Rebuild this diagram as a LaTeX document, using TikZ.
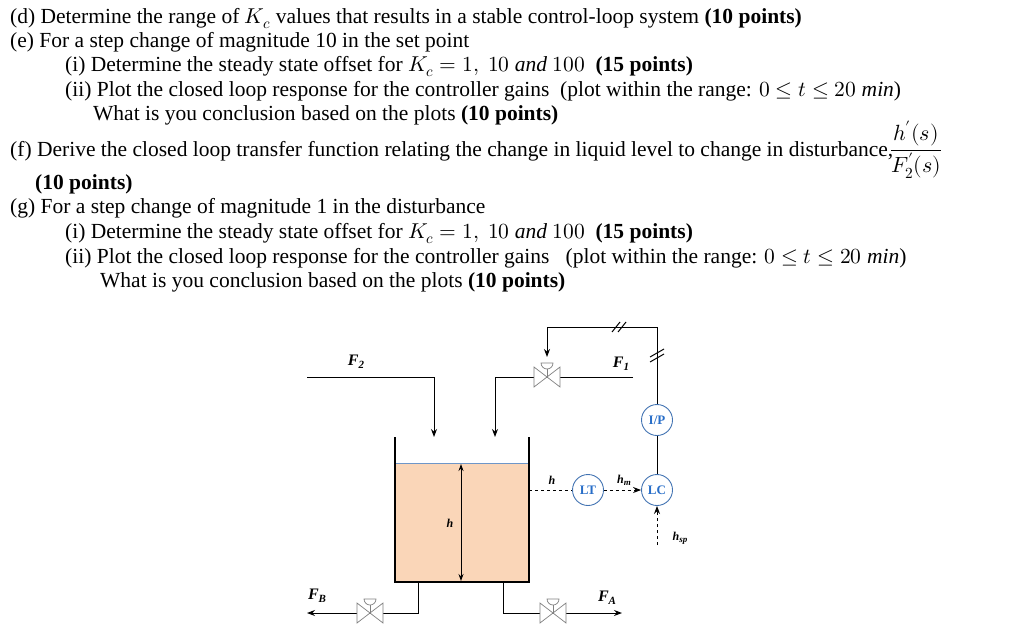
\documentclass[tikz,border=0pt]{standalone}
\usepackage{fontspec}
\setmainfont{Liberation Serif}
\usepackage{amsmath}
\usepackage{unicode-math}
\setmathfont{Latin Modern Math}
\usetikzlibrary{arrows.meta,calc}
\definecolor{liq}{RGB}{250,214,184}
\definecolor{surf}{RGB}{110,150,200}
\definecolor{inst}{RGB}{40,110,200}
\tikzset{
 txt/.style={anchor=base west,inner sep=0,font=\fontsize{21.5}{24}\selectfont},
 pipe/.style={line width=1pt},
 inst/.style={circle,draw=inst!70!gray,line width=0.9pt,minimum size=31pt,inner sep=0,text=inst,font=\bfseries\fontsize{13}{14}\selectfont},
 lab/.style={font=\bfseries\itshape\fontsize{16}{16}\selectfont,inner sep=0},
 slab/.style={font=\bfseries\itshape\fontsize{12}{12}\selectfont,inner sep=0},
 arr/.style={-{Stealth[length=8pt,width=6pt]}},
}
\newcommand{\sbs}[1]{\raisebox{-3pt}{\fontsize{11}{11}\selectfont #1}}
\newcommand{\ssbs}[1]{\raisebox{-2pt}{\fontsize{9}{9}\selectfont #1}}
\newcommand{\valve}[1]{%
 \draw[gray,line width=0.7pt,fill=white] ($(#1)+(-13,-10)$) -- ($(#1)+(13,10)$) -- ($(#1)+(13,-10)$) -- ($(#1)+(-13,10)$) -- cycle;
 \draw[gray,line width=0.7pt] (#1) -- ++(0,-14);
 \draw[gray,line width=0.7pt,fill=white] ($(#1)+(-6,-14)$) arc (180:0:6) -- cycle;}
\begin{document}
\begin{tikzpicture}[x=1pt,y=-1pt]
\useasboundingbox (0,0) rectangle (1024,637);
\node[txt] (d) at (10,23) {(d) Determine the range of $K_c$ values that results in a stable control-loop system \textbf{(10 points)}};
\node[txt] (e) at (10,47) {(e) For a step change of magnitude 10 in the set point};
\node[txt] (e1) at (65,71) {(i) Determine the steady state offset for $K_c=1,\ 10\ \mathit{and}\ 100$\ \ \textbf{(15 points)}};
\node[txt] (e2) at (65,96) {(ii) Plot the closed loop response for the controller gains\ \ (plot within the range: $0\le t\le 20\ \mathit{min}$)};
\node[txt] (e3) at (93,120) {What is you conclusion based on the plots \textbf{(10 points)}};
\node[txt] (f) at (10,156) {(f) Derive the closed loop transfer function relating the change in liquid level to change in disturbance,};
\node[font=\fontsize{22}{24}\selectfont,inner sep=0] (frac) at (916,150) {$\dfrac{\boldsymbol{h'(s)}}{\boldsymbol{F_2'(s)}}$};
\node[txt] (f2) at (35,189) {\textbf{(10 points)}};
\node[txt] (g) at (10,213) {(g) For a step change of magnitude 1 in the disturbance};
\node[txt] (g1) at (65,238) {(i) Determine the steady state offset for $K_c=1,\ 10\ \mathit{and}\ 100$\ \ \textbf{(15 points)}};
\node[txt] (g2) at (65,263) {(ii) Plot the closed loop response for the controller gains\ \ \ (plot within the range: $0\le t\le 20\ \mathit{min}$)};
\node[txt] (g3) at (100,287) {What is you conclusion based on the plots \textbf{(10 points)}};
% tank
\fill[liq] (395,463) rectangle (529,582);
\draw[surf,line width=1pt] (395,463) -- (529,463);
\draw[line width=1.4pt] (395,437) -- (395,582) -- (529,582) -- (529,437);
\draw[{Stealth[length=7pt,width=5pt]}-{Stealth[length=7pt,width=5pt]},pipe] (461,464) -- (461,581);
\node[slab] (hin) at (450,523) {h};
% F2
\coordinate (f2a) at (307,377); \coordinate (f2b) at (434,377); \coordinate (f2c) at (434,437);
\draw[pipe,arr] (f2a) -- (f2b) -- (f2c);
\node[lab] (F2) at (356,362) {F\sbs{2}};
% F1
\coordinate (v1) at (547,377); \coordinate (f1a) at (633,377); \coordinate (f1b) at (495,377); \coordinate (f1c) at (495,437);
\draw[pipe,arr] (f1a) -- (f1b) -- (f1c);
\valve{v1}
\node[lab] (F1) at (621,364) {F\sbs{1}};
% instruments
\node[inst] (IP) at (657,420) {I/P};
\node[inst] (LC) at (657,490) {LC};
\node[inst] (LT) at (588,490) {LT};
\coordinate (s2) at (547,327); \coordinate (s3) at (547,357);
\draw[pipe,arr] (IP.north) -- (657,327) -- (s2) -- (s3);
\draw[pipe] (612,332) -- (620,322) (618,332) -- (626,322);
\draw[pipe] (650,362) -- (664,354) (650,357) -- (664,349);
\draw[pipe] (IP) -- (LC);
\draw[pipe,dashed] (529,490) -- (LT);
\draw[pipe,dashed,arr] (LT) -- (LC);
\coordinate (hsp) at (657,545);
\draw[pipe,dashed,arr] (hsp) -- (LC);
\node[slab] (h1) at (552,480) {h};
\node[slab] (hm) at (624,480) {h\ssbs{m}};
\node[slab] (hsl) at (680,538) {h\ssbs{sp}};
% outlets
\coordinate (vb) at (370,613); \coordinate (va) at (553,613);
\draw[pipe,arr] (418,582) -- (418,613) -- (307,613);
\draw[pipe,arr] (503,582) -- (503,613) -- (622,613);
\valve{vb}\valve{va}
\node[lab] (FB) at (317,596) {F\sbs{B}};
\node[lab] (FA) at (607,598) {F\sbs{A}};
\end{tikzpicture}
\end{document}
